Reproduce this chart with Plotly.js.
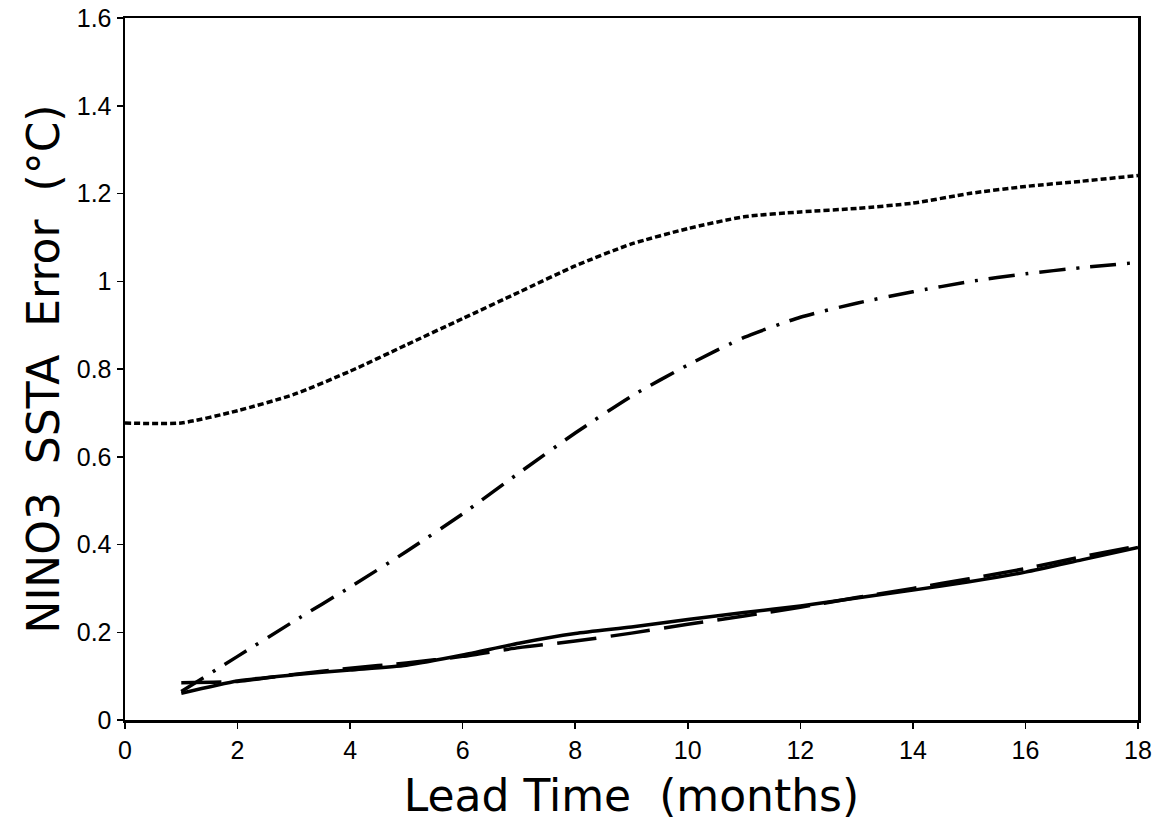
<!DOCTYPE html>
<html>
<head>
<meta charset="utf-8">
<script src="https://cdn.plot.ly/plotly-3.0.1.min.js"></script>
<style>html,body{margin:0;padding:0;background:#fff;}#chart{width:1170px;height:831px;}</style>
</head>
<body>
<div id="chart"></div>
<script>
// Lead time (months)
const leadDotted = [0,1,2,3,4,5,6,7,8,9,10,11,12,13,14,15,16,17,18];
const errDotted  = [0.677,0.677,0.705,0.742,0.795,0.855,0.915,0.975,1.035,1.085,1.12,1.147,1.158,1.166,1.178,1.200,1.216,1.228,1.241];

const lead = [1,2,3,4,5,6,7,8,9,10,11,12,13,14,15,16,17,18];
const errDashDot = [0.065,0.145,0.225,0.303,0.384,0.47,0.563,0.654,0.738,0.809,0.872,0.918,0.95,0.976,0.999,1.017,1.031,1.043];
const errSolid   = [0.061,0.089,0.103,0.114,0.125,0.148,0.175,0.197,0.212,0.229,0.245,0.26,0.278,0.296,0.315,0.337,0.365,0.393];
const errDashed  = [0.085,0.088,0.104,0.118,0.13,0.145,0.165,0.18,0.198,0.218,0.237,0.257,0.279,0.30,0.322,0.345,0.372,0.397];

const xTicks = [0,2,4,6,8,10,12,14,16,18];
const yTicks = [0,0.2,0.4,0.6,0.8,1,1.2,1.4,1.6];

const traces = [
  {x: leadDotted, y: errDotted, mode:'lines', line:{color:'#000', width:3.5, dash:'6px,3px', shape:'spline', smoothing:0.6}},
  {x: lead, y: errDashDot, mode:'lines', line:{color:'#000', width:3.5, dash:'26px,11px,3px,11px', shape:'spline', smoothing:0.6}},
  {x: lead, y: errDashed, mode:'lines', line:{color:'#000', width:3.5, dash:'40px,14px', shape:'spline', smoothing:0.6}},
  {x: lead, y: errSolid, mode:'lines', line:{color:'#000', width:3.5, shape:'spline', smoothing:0.6}}
];

const tickFont = {family:'"Liberation Sans", Arial, sans-serif', size:25, color:'#000'};
const titleFont = {family:'"DejaVu Sans", "Liberation Sans", sans-serif', size:44, color:'#000'};

const layout = {
  width:1170, height:831,
  margin:{l:125, r:32, t:18, b:111},
  showlegend:false,
  paper_bgcolor:'#fff', plot_bgcolor:'#fff',
  xaxis:{
    range:[0,18], tickvals:xTicks, ticktext:xTicks.map(String),
    showgrid:false, zeroline:false, showline:true, mirror:true, linecolor:'#000', linewidth:2.5,
    ticks:'outside', ticklen:6, tickwidth:1.5, tickcolor:'#000',
    tickfont:tickFont,
    title:{text:'Lead Time  (months)', font:titleFont, standoff:18}
  },
  yaxis:{
    range:[0,1.6], tickvals:yTicks, ticktext:yTicks.map(String),
    showgrid:false, zeroline:false, showline:true, mirror:true, linecolor:'#000', linewidth:2.5,
    ticks:'outside', ticklen:6, tickwidth:1.5, tickcolor:'#000',
    tickfont:tickFont,
    title:{text:'NINO3  SSTA  Error  (°C)', font:titleFont, standoff:4}
  }
};

Plotly.newPlot('chart', traces, layout, {displayModeBar:false, staticPlot:true});
</script>
</body>
</html>
